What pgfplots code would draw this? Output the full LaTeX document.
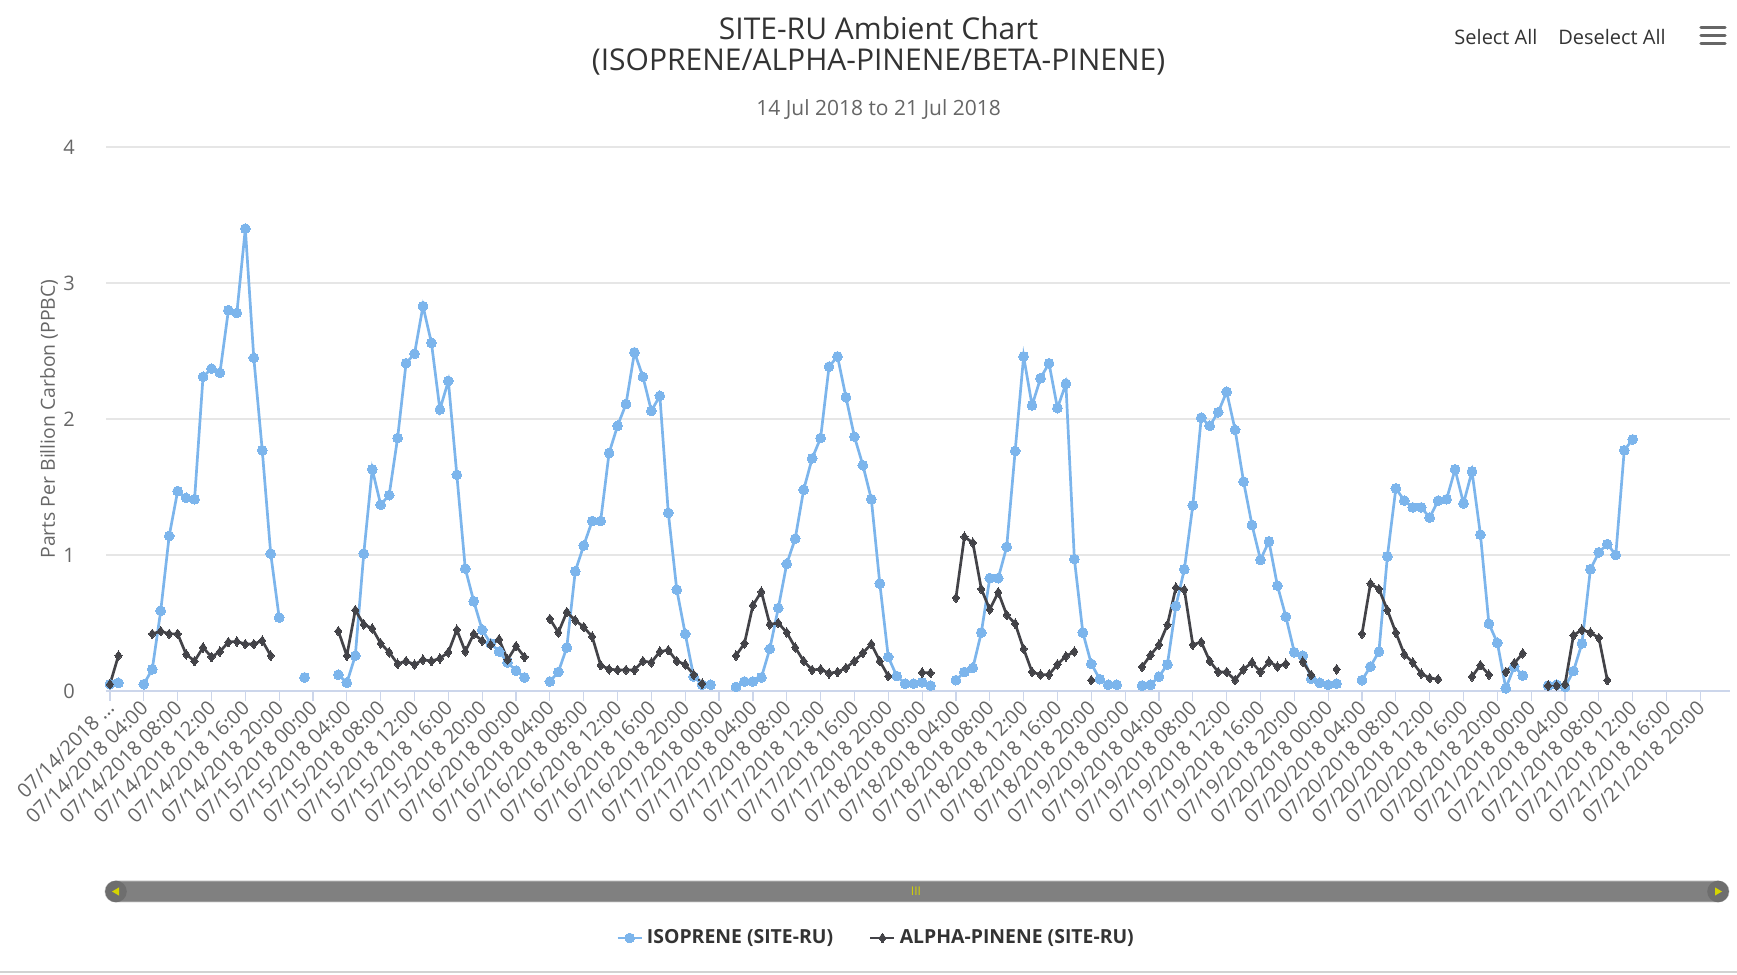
\documentclass[border=0pt]{standalone}
\usepackage{fontspec}
\setmainfont{Open Sans}
\usepackage{pgfplots}
\usepackage{pgfplotstable}
\pgfplotsset{compat=1.18}
\definecolor{isoblue}{HTML}{7CB5EC}
\definecolor{alphadark}{HTML}{434348}
\definecolor{gridc}{HTML}{E6E6E6}
\definecolor{axisc}{HTML}{CCD6EB}
\definecolor{txtgray}{HTML}{666666}
\definecolor{titlec}{HTML}{333333}
\definecolor{sbar}{HTML}{808080}
\definecolor{sbtn}{HTML}{6E6E6E}
\definecolor{sarrow}{HTML}{D4D400}

\pgfplotstableread{
h v
0 0.05
1 0.06
2 nan
4 0.05
5 0.16
6 0.59
7 1.14
8 1.47
9 1.42
10 1.41
11 2.31
12 2.37
13 2.34
14 2.80
15 2.78
16 3.40
17 2.45
18 1.77
19 1.01
20 0.54
21 nan
23 0.10
24 nan
27 0.12
28 0.06
29 0.26
30 1.01
31 1.63
32 1.37
33 1.44
34 1.86
35 2.41
36 2.48
37 2.83
38 2.56
39 2.07
40 2.28
41 1.59
42 0.90
43 0.66
44 0.45
45 0.35
46 0.29
47 0.21
48 0.15
49 0.10
50 nan
52 0.07
53 0.14
54 0.32
55 0.88
56 1.07
57 1.25
58 1.25
59 1.75
60 1.95
61 2.11
62 2.49
63 2.31
64 2.06
65 2.17
66 1.31
67 0.745
68 0.42
69 0.106
70 0.046
71 0.046
72 nan
74 0.03
75 0.07
76 0.07
77 0.10
78 0.31
79 0.61
80 0.935
81 1.12
82 1.48
83 1.71
84 1.86
85 2.385
86 2.46
87 2.16
88 1.87
89 1.66
90 1.41
91 0.79
92 0.25
93 0.11
94 0.054
95 0.054
96 0.065
97 0.04
98 nan
100 0.08
101 0.14
102 0.17
103 0.43
104 0.83
105 0.83
106 1.06
107 1.765
108 2.46
109 2.10
110 2.30
111 2.41
112 2.08
113 2.26
114 0.97
115 0.43
116 0.20
117 0.087
118 0.046
119 0.046
120 nan
122 0.04
123 0.046
124 0.106
125 0.196
126 0.625
127 0.895
128 1.365
129 2.01
130 1.95
131 2.05
132 2.20
133 1.92
134 1.54
135 1.22
136 0.965
137 1.10
138 0.775
139 0.547
140 0.285
141 0.26
142 0.09
143 0.06
144 0.046
145 0.054
146 nan
148 0.08
149 0.18
150 0.29
151 0.99
152 1.49
153 1.40
154 1.35
155 1.35
156 1.275
157 1.40
158 1.41
159 1.63
160 1.38
161 1.615
162 1.15
163 0.495
164 0.354
165 0.02
166 0.18
167 0.114
168 nan
170 0.04
171 0.046
172 0.03
173 0.147
174 0.35
175 0.895
176 1.02
177 1.08
178 1.00
179 1.77
180 1.85
}\isotable

\pgfplotstableread{
h v
0 0.05
1 0.26
2 nan
5 0.42
6 0.44
7 0.42
8 0.42
9 0.27
10 0.22
11 0.32
12 0.25
13 0.29
14 0.36
15 0.364
16 0.345
17 0.345
18 0.37
19 0.26
20 nan
27 0.44
28 0.26
29 0.595
30 0.49
31 0.46
32 0.35
33 0.285
34 0.20
35 0.22
36 0.195
37 0.23
38 0.22
39 0.24
40 0.285
41 0.45
42 0.29
43 0.42
44 0.37
45 0.34
46 0.38
47 0.23
48 0.33
49 0.25
50 nan
52 0.53
53 0.43
54 0.58
55 0.52
56 0.47
57 0.40
58 0.19
59 0.16
60 0.155
61 0.155
62 0.155
63 0.22
64 0.21
65 0.29
66 0.30
67 0.22
68 0.195
69 0.12
70 0.054
71 nan
74 0.26
75 0.35
76 0.63
77 0.73
78 0.49
79 0.50
80 0.43
81 0.32
82 0.22
83 0.155
84 0.16
85 0.13
86 0.14
87 0.17
88 0.22
89 0.28
90 0.345
91 0.22
92 0.11
93 nan
96 0.136
97 0.133
98 nan
100 0.685
101 1.134
102 1.09
103 0.75
104 0.60
105 0.726
106 0.56
107 0.495
108 0.31
109 0.14
110 0.12
111 0.12
112 0.196
113 0.255
114 0.29
115 nan
116 0.08
117 nan
122 0.177
123 0.264
124 0.34
125 0.487
126 0.76
127 0.745
128 0.34
129 0.36
130 0.22
131 0.14
132 0.14
133 0.08
134 0.16
135 0.21
136 0.14
137 0.216
138 0.18
139 0.20
140 nan
141 0.216
142 0.118
143 nan
145 0.16
146 nan
148 0.42
149 0.79
150 0.75
151 0.595
152 0.43
153 0.27
154 0.21
155 0.128
156 0.095
157 0.087
158 nan
161 0.106
162 0.19
163 0.12
164 nan
165 0.14
166 0.204
167 0.277
168 nan
170 0.04
171 0.04
172 0.05
173 0.41
174 0.45
175 0.43
176 0.39
177 0.08
}\alphatable

\begin{document}
\begin{tikzpicture}
\path[use as bounding box] (0,0) rectangle (868.5pt,487.5pt);
% titles
\node[font=\fontsize{15}{18}\selectfont, text=titlec] at (439.3pt,473.6pt) {SITE-RU Ambient Chart};
\node[font=\fontsize{15}{18}\selectfont, text=titlec] at (439.3pt,456.5pt) {(ISOPRENE/ALPHA-PINENE/BETA-PINENE)};
\node[font=\fontsize{10.5}{12}\selectfont, text=txtgray] at (439.3pt,432.6pt) {14 Jul 2018 to 21 Jul 2018};
% buttons
\node[font=\fontsize{10}{12}\selectfont, text=titlec] at (748pt,469.2pt) {Select All};
\node[font=\fontsize{10}{12}\selectfont, text=titlec] at (806pt,469.2pt) {Deselect All};
\foreach \yy in {473.6,469.7,465.9}{
  \draw[txtgray, line width=1.6pt, line cap=round] (850.5pt,\yy pt) -- (862.5pt,\yy pt);
}
\begin{axis}[
  at={(53pt,142pt)}, anchor=south west,
  scale only axis, width=812pt, height=272pt,
  xmin=-0.47, xmax=191.5, ymin=0, ymax=4,
  axis x line*=bottom, axis y line*=left,
  x axis line style={draw=axisc, line width=0.6pt},
  y axis line style={draw=none},
  ymajorgrids, grid style={gridc, line width=0.6pt},
  ytick={0,1,2,3,4},
  ytick style={draw=none},
  yticklabel style={font=\fontsize{10}{12}\selectfont, text=txtgray, anchor=east, xshift=-7pt},
  xtick={0,4,...,188},
  xtick style={draw=axisc, line width=0.6pt},
  tick align=outside, major tick length=5pt,
  xticklabels={{07/14/2018 …},{07/14/2018 04:00},{07/14/2018 08:00},{07/14/2018 12:00},{07/14/2018 16:00},{07/14/2018 20:00},
    {07/15/2018 00:00},{07/15/2018 04:00},{07/15/2018 08:00},{07/15/2018 12:00},{07/15/2018 16:00},{07/15/2018 20:00},
    {07/16/2018 00:00},{07/16/2018 04:00},{07/16/2018 08:00},{07/16/2018 12:00},{07/16/2018 16:00},{07/16/2018 20:00},
    {07/17/2018 00:00},{07/17/2018 04:00},{07/17/2018 08:00},{07/17/2018 12:00},{07/17/2018 16:00},{07/17/2018 20:00},
    {07/18/2018 00:00},{07/18/2018 04:00},{07/18/2018 08:00},{07/18/2018 12:00},{07/18/2018 16:00},{07/18/2018 20:00},
    {07/19/2018 00:00},{07/19/2018 04:00},{07/19/2018 08:00},{07/19/2018 12:00},{07/19/2018 16:00},{07/19/2018 20:00},
    {07/20/2018 00:00},{07/20/2018 04:00},{07/20/2018 08:00},{07/20/2018 12:00},{07/20/2018 16:00},{07/20/2018 20:00},
    {07/21/2018 00:00},{07/21/2018 04:00},{07/21/2018 08:00},{07/21/2018 12:00},{07/21/2018 16:00},{07/21/2018 20:00}},
  xticklabel style={font=\fontsize{10}{12}\selectfont, text=txtgray, rotate=45, anchor=east, inner sep=1pt, yshift=-1.5pt},
  /pgf/number format/assume math mode=true,
  ylabel={Parts Per Billion Carbon (PPBC)},
  ylabel style={font=\fontsize{9.7}{12}\selectfont, text=txtgray, at={(axis description cs:-0.0351,0.5)}, anchor=center},
  unbounded coords=jump,
  legend style={draw=none, fill=none, at={(axis description cs:0.4748,-0.454)}, anchor=center,
    font=\fontsize{9.7}{12}\selectfont\bfseries, text=titlec, legend columns=2,
    /tikz/every even column/.append style={column sep=16pt}},
  legend image code/.code={\draw[mark repeat=2,mark phase=2,#1] plot coordinates {(0pt,0pt)(6pt,0pt)(12pt,0pt)};},
]
\addplot[isoblue, line width=1.35pt, mark=*, mark size=2.45pt, mark options={fill=isoblue, draw=isoblue, line width=0pt}] table[x=h, y=v] {\isotable};
\addlegendentry{ISOPRENE (SITE-RU)}
\addplot[alphadark, line width=1.35pt, mark=diamond*, mark size=2.4pt, mark options={fill=alphadark, draw=alphadark, line width=0pt}] table[x=h, y=v] {\alphatable};
\addlegendentry{ALPHA-PINENE (SITE-RU)}
\end{axis}
% scrollbar
\draw[draw=gray!40, fill=sbar, rounded corners=5.2pt] (52.5pt,36.5pt) rectangle (864.5pt,47pt);
\fill[sbtn] (58pt,41.75pt) circle (5.4pt);
\fill[sbtn] (859pt,41.75pt) circle (5.4pt);
\fill[sarrow] (56pt,41.75pt) -- (59.5pt,43.8pt) -- (59.5pt,39.7pt) -- cycle;
\fill[sarrow] (861pt,41.75pt) -- (857.5pt,43.8pt) -- (857.5pt,39.7pt) -- cycle;
\node[text=sarrow, font=\fontsize{6}{6}\selectfont] at (458pt,42pt) {III};
\draw[gray!35, line width=0.6pt] (0,1.5pt) -- (868.5pt,1.5pt);
\end{tikzpicture}
\end{document}
